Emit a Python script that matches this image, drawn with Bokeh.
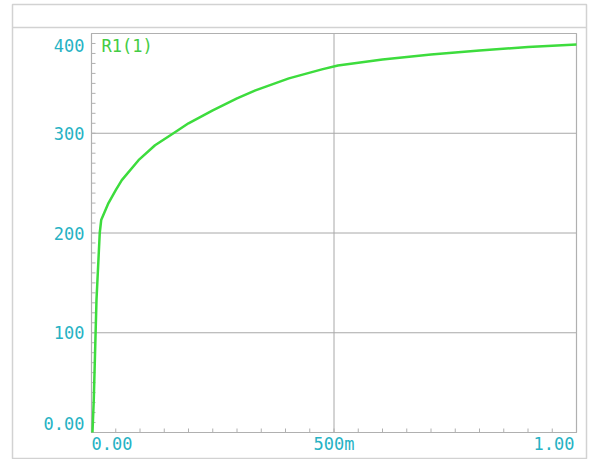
from bokeh.plotting import figure
from bokeh.models import Range1d
from bokeh.core.properties import value
from bokeh.embed import file_html
from bokeh.resources import INLINE

# ---- data ----
time_s = [0.002, 0.0047, 0.0103, 0.017, 0.020, 0.035, 0.05, 0.0625, 0.097, 0.131, 0.169,
          0.200, 0.25, 0.30, 0.338, 0.407, 0.475, 0.508, 0.60, 0.70, 0.80, 0.90, 1.0]
r1_val = [0, 33, 133, 200, 213, 230, 243, 253, 273, 288, 300,
          310, 323, 335, 343, 355, 364, 368, 374, 379, 383, 386.5, 389]
series_name = "R1(1)"

x_ticks = [0.0, 0.5, 1.0]
x_tick_labels = ["0.00", "500m", "1.00"]
y_ticks = [0, 100, 200, 300, 400]
y_tick_labels = ["0.00", "100", "200", "300", "400"]
x_minor = [i * 0.05 for i in range(21)]
y_minor = [i * 10 for i in range(41)]

# ---- layout (canvas pixels) ----
W, H = 590, 459
PX_L, PX_R = 91, 576      # x = 0 .. 1
PY_B, PY_T = 432, 33      # y = 0 .. 400
X_MIN, X_MAX = x_ticks[0], x_ticks[-1]
Y_MIN, Y_MAX = y_ticks[0], y_ticks[-1]
sx = (PX_R - PX_L) / (X_MAX - X_MIN)
sy = (PY_B - PY_T) / (Y_MAX - Y_MIN)

def xd(px):
    return X_MIN + (px - PX_L) / sx

def yd(py):
    return Y_MIN + (PY_B - py) / sy

LABEL_COLOR = "#26b2c4"
CURVE_COLOR = "#3ddc3d"
GRID_COLOR = "#a8a8a8"
FRAME_COLOR = "#b0b0b0"
OUTER_COLOR = "#d2d2d2"
FONT = "DejaVu Sans Mono"
FS = "17px"

p = figure(width=W, height=H, output_backend="svg", toolbar_location=None,
           x_range=Range1d(xd(0), xd(W)), y_range=Range1d(yd(H), yd(0)),
           min_border=0)
p.xaxis.visible = False
p.yaxis.visible = False
p.grid.visible = False
p.outline_line_color = None
p.background_fill_color = "white"
p.border_fill_color = "white"

# outer window frame and header strip
p.quad(left=[xd(12)], right=[xd(586)], bottom=[yd(458)], top=[yd(4)],
       fill_alpha=0, line_color=OUTER_COLOR, line_width=1.5)
p.segment(x0=[xd(12)], x1=[xd(586)], y0=[yd(27)], y1=[yd(27)],
          line_color=OUTER_COLOR, line_width=1.5)

# grid lines
inner_y = y_ticks[1:-1]
p.segment(x0=[X_MIN] * len(inner_y), x1=[X_MAX] * len(inner_y), y0=inner_y, y1=inner_y,
          line_color=GRID_COLOR, line_width=1)
inner_x = x_ticks[1:-1]
p.segment(x0=inner_x, x1=inner_x, y0=[Y_MIN] * len(inner_x), y1=[Y_MAX] * len(inner_x),
          line_color=GRID_COLOR, line_width=1)

# tick marks (inside)
TICK = 4
p.segment(x0=x_minor, x1=x_minor, y0=[Y_MIN] * len(x_minor),
          y1=[Y_MIN + TICK / sy] * len(x_minor), line_color=FRAME_COLOR, line_width=1)
p.segment(x0=[X_MIN] * len(y_minor), x1=[X_MIN + TICK / sx] * len(y_minor),
          y0=y_minor, y1=y_minor, line_color=FRAME_COLOR, line_width=1)

# plot box
p.quad(left=[X_MIN], right=[X_MAX], bottom=[Y_MIN], top=[Y_MAX],
       fill_alpha=0, line_color=FRAME_COLOR, line_width=1.2)

# curve
p.line(time_s, r1_val, line_color=CURVE_COLOR, line_width=2.5, line_join="round")

# y tick labels (end labels pulled inside, PSpice style)
y_off = [-9] + [0] * (len(y_ticks) - 2) + [12]
p.text(x=[X_MIN] * len(y_ticks), y=y_ticks, text=y_tick_labels, x_offset=-7,
       y_offset=y_off, text_align="right", text_baseline="middle",
       text_color=LABEL_COLOR, text_font=value(FONT), text_font_size=FS)

# x tick labels
x_align = ["left"] + ["center"] * (len(x_ticks) - 2) + ["right"]
x_off = [0] + [0] * (len(x_ticks) - 2) + [-2]
p.text(x=x_ticks, y=[Y_MIN] * len(x_ticks), text=x_tick_labels, x_offset=x_off,
       y_offset=11, text_align=x_align, text_baseline="middle",
       text_color=LABEL_COLOR, text_font=value(FONT), text_font_size=FS)

# trace name
p.text(x=[X_MIN], y=[Y_MAX], text=[series_name], x_offset=10, y_offset=12,
       text_align="left", text_baseline="middle", text_color="#44cc44",
       text_font=value(FONT), text_font_size=FS)

open("out.html", "w").write(file_html(p, INLINE))
